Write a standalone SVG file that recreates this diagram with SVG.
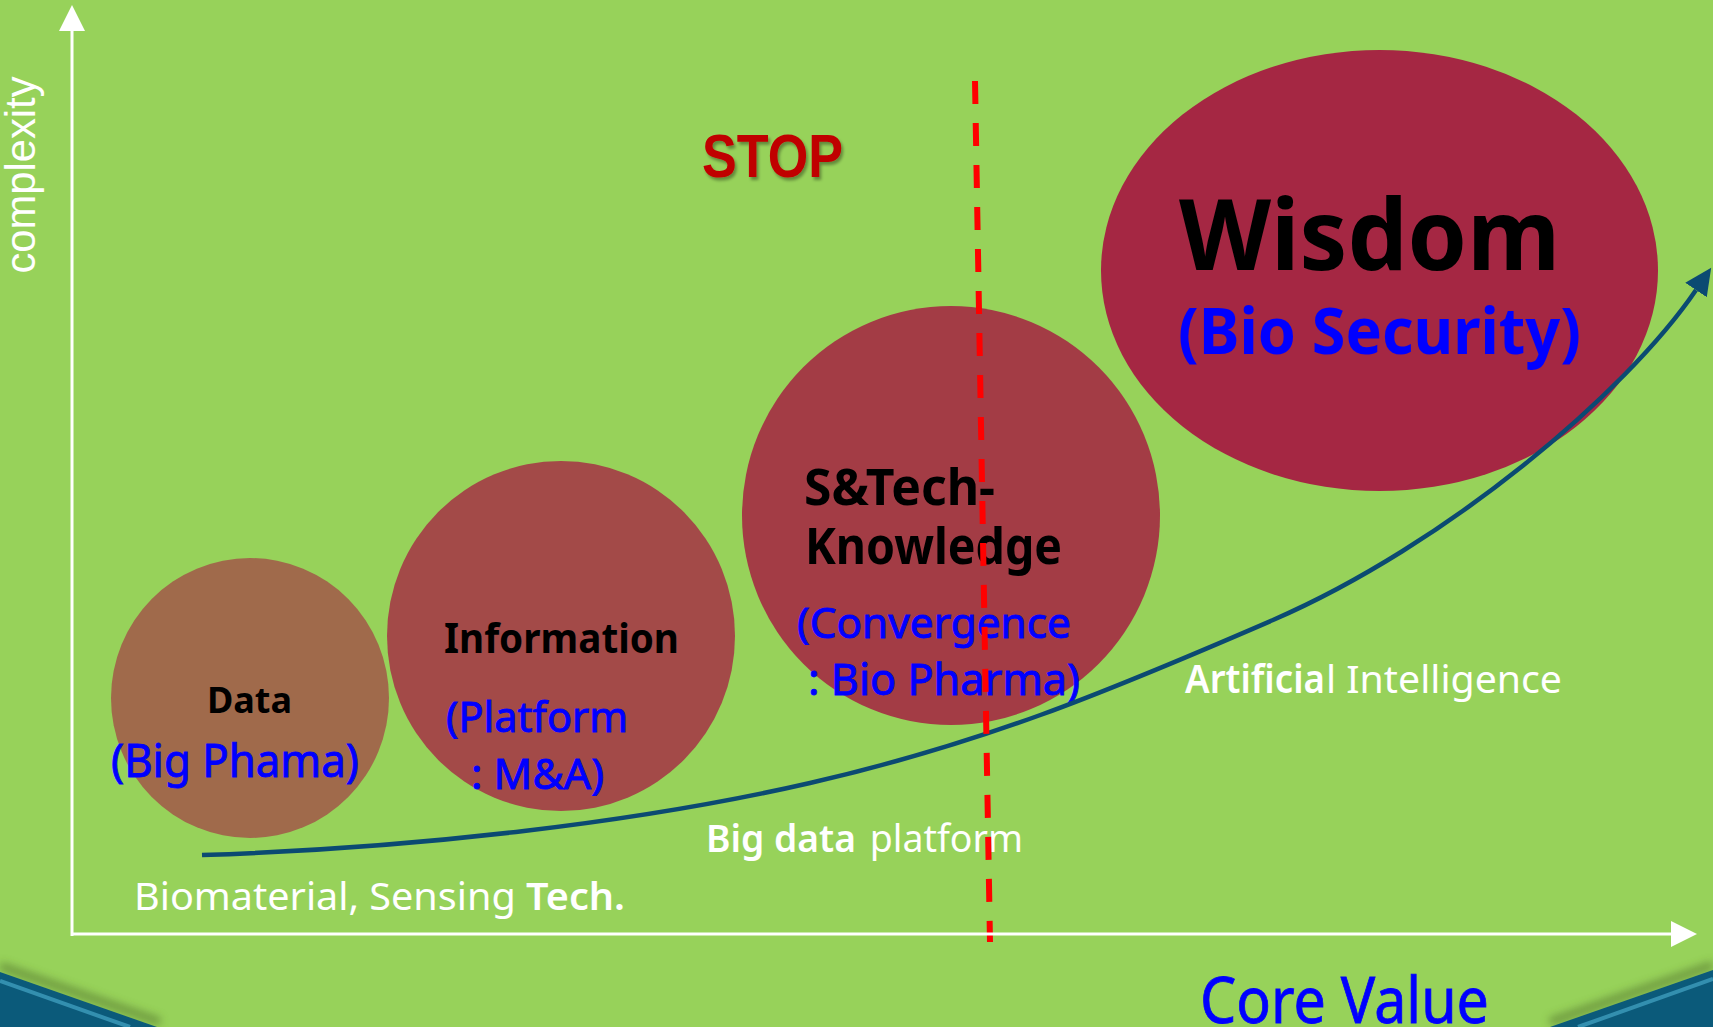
<svg xmlns="http://www.w3.org/2000/svg" width="1713" height="1027" viewBox="0 0 1713 1027">
  <style>
    .lbl{font-family:"Noto Sans","Liberation Sans",sans-serif;font-weight:bold;fill:#000}
    .sub{font-family:"Noto Sans","Liberation Sans",sans-serif;fill:#0000FF;stroke:#0000FF;stroke-width:0.9}
    .wt{font-family:"Noto Sans","Liberation Sans",sans-serif;fill:#FFFFFF}
    .b{font-weight:600}
    .axis{stroke:#FFFFFF;stroke-width:3;fill:none}
  </style>
  <defs>
    <marker id="axArrow" markerUnits="userSpaceOnUse" markerWidth="28" markerHeight="28" viewBox="0 -14 28 28" refX="0" refY="0" orient="auto">
      <path d="M0,-13 L26,0 L0,13 Z" fill="#FFFFFF"/>
    </marker>
    <marker id="curveArrow" markerUnits="userSpaceOnUse" markerWidth="30" markerHeight="30" viewBox="0 -15 30 30" refX="0" refY="0" orient="auto">
      <path d="M0,-13 L27,0 L0,13 Z" fill="#0B4A72"/>
    </marker>
    <filter id="shadow" x="-10%" y="-20%" width="130%" height="150%">
      <feDropShadow dx="2" dy="3" stdDeviation="1.5" flood-color="#000" flood-opacity="0.35"/>
    </filter>
    <filter id="blur" x="-10%" y="-50%" width="120%" height="200%">
      <feGaussianBlur stdDeviation="4"/>
    </filter>
  </defs>

  <!-- background -->
  <rect x="0" y="0" width="1713" height="1027" fill="#97D25A"/>
  <g id="corners">
    <path d="M0,966 L160,1022" stroke="#4f6e2a" stroke-width="8" opacity="0.6" filter="url(#blur)"/>
    <path d="M1550,1022 L1713,965" stroke="#4f6e2a" stroke-width="8" opacity="0.6" filter="url(#blur)"/>
    <path d="M0,972 L157,1027 L0,1027 Z" fill="#0B5A7A"/>
    <path d="M0,981 L130,1027" stroke="#3E9DBD" stroke-width="4" opacity="0.8"/>
    <path d="M1550,1027 L1713,970 L1713,1027 Z" fill="#0B5A7A"/>
    <path d="M1578,1027 L1713,979" stroke="#3E9DBD" stroke-width="4" opacity="0.8"/>
  </g>

  <!-- nodes -->
  <g id="node-data">
    <ellipse cx="250" cy="698" rx="139" ry="140" fill="#A06A4B"/>
    <text class="lbl" x="207" y="713" font-size="36" textLength="85" lengthAdjust="spacingAndGlyphs">Data</text>
    <text class="sub" x="111" y="777" font-size="46" textLength="248" lengthAdjust="spacingAndGlyphs">(Big Phama)</text>
  </g>

  <g id="node-information">
    <ellipse cx="561" cy="636" rx="174" ry="175" fill="#A34A48"/>
    <text class="lbl" x="444" y="653" font-size="42" textLength="235" lengthAdjust="spacingAndGlyphs">Information</text>
    <text class="sub" x="446" y="732" font-size="42" textLength="182" lengthAdjust="spacingAndGlyphs">(Platform</text>
    <text class="sub" x="471" y="789" font-size="42" textLength="133" lengthAdjust="spacingAndGlyphs">: M&amp;A)</text>
  </g>

  <g id="node-knowledge">
    <ellipse cx="951" cy="515.5" rx="209" ry="209.5" fill="#A33C45"/>
    <text class="lbl" x="804" y="505" font-size="50" textLength="191" lengthAdjust="spacingAndGlyphs">S&amp;Tech-</text>
    <text class="lbl" x="805" y="564" font-size="50" textLength="257" lengthAdjust="spacingAndGlyphs">Knowledge</text>
    <text class="sub" x="797" y="638" font-size="42" textLength="274" lengthAdjust="spacingAndGlyphs">(Convergence</text>
    <text class="sub" x="808" y="695" font-size="44" textLength="272" lengthAdjust="spacingAndGlyphs">: Bio Pharma)</text>
  </g>

  <g id="node-wisdom">
    <ellipse cx="1379.5" cy="270.5" rx="278.5" ry="220.5" fill="#A52743"/>
    <text class="lbl" x="1179" y="270" font-size="99" textLength="381" lengthAdjust="spacingAndGlyphs">Wisdom</text>
    <text class="sub" x="1178" y="354" font-size="64" font-weight="bold" style="stroke-width:0" textLength="403" lengthAdjust="spacingAndGlyphs">(Bio Security)</text>
  </g>

  <!-- free labels -->
  <g id="labels">
    <text x="702" y="177" font-family="'Liberation Sans',Arial,sans-serif" font-weight="bold" font-size="61" fill="#C00000" filter="url(#shadow)" textLength="141" lengthAdjust="spacingAndGlyphs">STOP</text>
    <text transform="translate(35,175) rotate(-90)" text-anchor="middle" font-family="'Liberation Sans',Arial,sans-serif" font-size="42" fill="#FFFFFF" textLength="197" lengthAdjust="spacingAndGlyphs">complexity</text>
    <text class="wt" y="910" font-size="38"><tspan x="134" textLength="392" lengthAdjust="spacingAndGlyphs">Biomaterial, Sensing </tspan><tspan class="b" x="526" textLength="99" lengthAdjust="spacingAndGlyphs">Tech.</tspan></text>
    <text class="wt" y="852" font-size="38"><tspan class="b" x="706" textLength="150" lengthAdjust="spacingAndGlyphs">Big data</tspan><tspan x="860" textLength="163" lengthAdjust="spacingAndGlyphs"> platform</tspan></text>
    <text class="wt" y="693" font-size="39"><tspan class="b" x="1185" textLength="140" lengthAdjust="spacingAndGlyphs">Artificia</tspan><tspan x="1326" textLength="236" lengthAdjust="spacingAndGlyphs">l Intelligence</tspan></text>
    <text x="1200" y="1023" font-family="'Noto Sans','Liberation Sans',sans-serif" font-size="64" fill="#0000FF" stroke="#0000FF" stroke-width="0.8" textLength="289" lengthAdjust="spacingAndGlyphs">Core Value</text>
  </g>

  <!-- connectors -->
  <g id="connectors">
    <path d="M202,855 C420,848 640,822 810,783 S1100,695 1273,620 S1626,393 1696,290" fill="none" stroke="#0B4A72" stroke-width="4.5" marker-end="url(#curveArrow)"/>
    <line x1="975" y1="81" x2="990" y2="942" stroke="#FF0000" stroke-width="6" stroke-dasharray="23 19"/>
    <line class="axis" x1="72" y1="936" x2="72" y2="31" marker-end="url(#axArrow)"/>
    <line class="axis" x1="71" y1="934" x2="1671" y2="934" marker-end="url(#axArrow)"/>
  </g>
</svg>
